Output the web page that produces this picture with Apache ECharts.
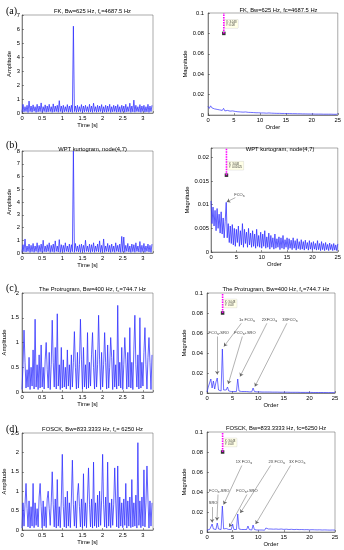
<!DOCTYPE html>
<html><head><meta charset="utf-8">
<script src="https://cdn.jsdelivr.net/npm/echarts@6/dist/echarts.min.js"></script>
<style>html,body{margin:0;padding:0;background:#fff}#c{width:344px;height:550px}</style>
</head><body><div id="c"></div>
<script>
// ---------- DATA ----------
const DT = 0.025;          // time step of the envelope signals [s]
const D_ORDER_A = 0.25, D_ORDER_B = 0.2, D_ORDER_C = 0.25, D_ORDER_D = 0.25;

const timeA = [
0.05,0.62,0.08,0.45,0.10,0.55,0.04,0.85,0.10,0.50,
0.06,0.58,0.12,0.45,0.05,0.62,0.08,0.50,0.10,0.72,
0.05,0.45,0.10,0.58,0.06,0.50,0.08,0.62,0.10,0.45,
0.05,0.65,0.08,0.50,0.10,0.55,0.06,0.88,0.10,0.50,
0.05,0.55,0.08,0.45,0.10,0.60,0.06,0.50,0.08,0.55,
0.05,6.20,0.10,0.50,0.06,0.55,0.08,0.45,0.10,0.60,
0.05,0.50,0.08,0.55,0.10,0.45,0.06,0.62,0.08,0.50,
0.05,0.70,0.10,0.45,0.06,0.55,0.08,0.50,0.10,0.60,
0.05,0.45,0.08,0.55,0.06,0.50,0.10,0.62,0.05,0.45,
0.08,0.55,0.10,0.50,0.06,0.60,0.08,0.45,0.05,0.55,
0.10,0.50,0.06,0.62,0.08,0.45,0.10,0.70,0.05,0.50,
0.08,0.92,0.06,0.55,0.10,0.45,0.08,0.60,0.05,0.50,
0.10,0.55,0.06,0.45,0.08,0.62,0.05,0.50,0.10,0.55];

const timeB = [
0.05,0.65,0.10,1.10,0.08,0.55,0.12,0.70,0.05,0.60,
0.10,0.75,0.06,0.55,0.12,0.80,0.05,0.60,0.10,0.70,
0.06,1.00,0.10,0.55,0.08,0.65,0.12,0.80,0.05,0.60,
0.10,0.70,0.06,0.95,0.12,0.55,0.08,1.05,0.05,0.65,
0.10,0.60,0.06,0.80,0.12,0.55,0.08,0.70,0.05,0.65,
0.10,8.00,0.06,0.75,0.12,0.55,0.08,0.65,0.05,0.70,
0.10,0.60,0.06,1.00,0.12,0.55,0.08,0.70,0.05,0.65,
0.10,0.80,0.06,0.55,0.12,0.70,0.08,0.95,0.05,0.60,
0.10,1.10,0.06,0.55,0.12,0.75,0.08,0.60,0.05,0.70,
0.10,0.55,0.06,0.80,0.12,0.60,0.08,0.70,0.05,1.30,
0.10,1.25,0.06,0.60,0.12,0.75,0.08,0.55,0.05,0.70,
0.10,0.65,0.06,0.80,0.12,0.55,0.08,0.90,0.05,0.60,
0.10,0.75,0.06,0.55,0.12,0.70,0.08,0.60,0.05,0.70];

const timeC = [
0.05,0.55,1.25,0.60,0.08,0.45,0.10,0.70,0.05,0.50,
0.12,0.85,0.06,1.47,0.10,0.55,0.05,0.75,0.08,0.95,
0.10,0.50,0.06,0.65,1.00,0.45,0.08,0.80,0.05,0.55,
1.45,0.60,0.10,0.90,0.06,1.58,0.12,0.55,0.05,0.90,
0.08,0.65,0.10,0.50,0.06,0.85,0.12,0.55,0.05,0.75,
0.10,0.60,1.22,0.50,0.06,0.80,0.08,0.55,1.47,0.65,
0.05,0.90,0.10,0.55,0.06,1.20,0.08,0.60,0.12,0.75,
1.20,0.50,0.06,0.85,0.10,0.55,1.55,0.65,0.05,0.80,
0.10,0.55,1.20,0.60,0.06,0.95,0.08,0.50,1.10,0.70,
0.05,0.85,0.10,0.55,0.06,1.75,0.12,0.60,0.08,0.90,
0.05,0.55,1.10,0.65,0.06,0.80,0.10,1.30,0.08,0.60,
0.05,0.85,1.55,0.55,0.10,0.75,0.06,1.50,0.08,0.60,
0.12,0.80,1.30,0.55,0.06,0.70,1.10,0.60,0.05,0.75];

const timeD = [
0.05,0.70,0.10,0.65,1.20,0.55,0.08,0.75,0.05,0.60,
0.10,1.20,0.06,0.70,0.12,0.55,0.08,0.85,1.20,0.60,
0.05,0.75,0.10,0.60,0.06,0.80,1.00,0.55,0.12,0.70,
1.50,0.65,0.08,0.80,0.05,1.30,0.10,0.60,0.06,0.75,
1.95,0.60,0.08,0.85,0.05,1.00,0.10,0.70,0.06,0.80,
1.80,0.65,0.10,0.75,0.05,0.90,1.20,0.60,0.08,0.80,
0.05,1.45,0.10,0.70,0.06,0.85,1.60,0.65,0.08,0.80,
0.05,1.75,0.10,0.70,0.06,0.90,0.08,1.00,0.12,0.75,
1.95,0.65,0.08,0.85,0.05,1.75,0.10,0.70,0.06,0.80,
0.12,0.65,1.60,0.75,0.08,1.65,0.05,0.85,0.10,0.70,
0.06,0.80,0.12,1.20,0.05,0.75,0.10,0.85,0.06,1.30,
0.08,0.70,0.10,0.90,0.05,2.25,0.12,0.75,0.06,0.85,
0.10,1.55,0.08,0.70,1.65,0.80,0.05,0.75,0.10,0.70];

const specA = [
0.0085,0.0065,0.0090,0.0070,0.0080,0.0060,0.0075,0.0055,0.0070,0.0050,
0.0060,0.0045,0.0065,0.0040,0.0055,0.0045,0.0050,0.0038,0.0050,0.0040,
0.0048,0.0035,0.0045,0.0032,0.0042,0.0030,0.0045,0.0028,0.0040,0.0030,
0.0038,0.0026,0.0035,0.0025,0.0036,0.0024,0.0032,0.0022,0.0034,0.0022,
0.0030,0.0020,0.0032,0.0020,0.0030,0.0018,0.0035,0.0020,0.0028,0.0018,
0.0028,0.0017,0.0026,0.0016,0.0027,0.0016,0.0025,0.0015,0.0026,0.0015,
0.0024,0.0014,0.0025,0.0014,0.0022,0.0013,0.0023,0.0013,0.0021,0.0012,
0.0022,0.0012,0.0020,0.0011,0.0021,0.0011,0.0019,0.0010,0.0020,0.0010,
0.0018,0.0010,0.0019,0.0009,0.0017,0.0009,0.0018,0.0009,0.0016,0.0008,
0.0017,0.0008,0.0016,0.0008,0.0015,0.0008,0.0016,0.0007,0.0015,0.0007,0.0014];

const specB = [
0.0108,0.0060,0.0095,0.0055,0.0088,0.0045,0.0092,0.0050,0.0080,0.0040,
0.0085,0.0038,0.0072,0.0030,0.0065,0.0105,0.0030,0.0060,0.0020,0.0055,
0.0018,0.0058,0.0015,0.0050,0.0012,0.0048,0.0020,0.0055,0.0012,0.0045,
0.0015,0.0060,0.0010,0.0048,0.0018,0.0042,0.0010,0.0050,0.0015,0.0040,
0.0010,0.0045,0.0012,0.0038,0.0008,0.0048,0.0012,0.0035,0.0010,0.0042,
0.0008,0.0038,0.0012,0.0045,0.0008,0.0032,0.0010,0.0040,0.0006,0.0035,
0.0010,0.0030,0.0006,0.0038,0.0008,0.0028,0.0010,0.0032,0.0005,0.0030,
0.0008,0.0035,0.0006,0.0026,0.0010,0.0030,0.0005,0.0028,0.0008,0.0025,
0.0005,0.0030,0.0008,0.0024,0.0004,0.0028,0.0007,0.0022,0.0005,0.0026,
0.0006,0.0022,0.0004,0.0025,0.0007,0.0020,0.0004,0.0024,0.0006,0.0020,
0.0004,0.0022,0.0006,0.0018,0.0004,0.0024,0.0005,0.0018,0.0003,0.0022,
0.0005,0.0018,0.0003,0.0020,0.0005,0.0016,0.0003,0.0019,0.0005,0.0016,
0.0003,0.0018,0.0004,0.0015,0.0003,0.0017];

const specC = [
0.0010,0.0060,0.0040,0.0140,0.0050,0.0120,0.0040,0.0110,0.0150,0.0030,
0.0040,0.0020,0.0440,0.0030,0.0020,0.0030,0.0060,0.0020,0.0030,0.0015,
0.0030,0.0015,0.0025,0.0015,0.0140,0.0020,0.0030,0.0015,0.0025,0.0015,
0.0030,0.0015,0.0025,0.0012,0.0020,0.0012,0.0050,0.0015,0.0025,0.0012,
0.0022,0.0012,0.0020,0.0010,0.0022,0.0010,0.0020,0.0010,0.0018,0.0010,
0.0020,0.0009,0.0018,0.0009,0.0017,0.0009,0.0018,0.0008,0.0016,0.0008,
0.0017,0.0008,0.0015,0.0008,0.0016,0.0007,0.0015,0.0007,0.0014,0.0007,
0.0015,0.0007,0.0014,0.0006,0.0013,0.0006,0.0014,0.0006,0.0012,0.0006,
0.0013,0.0006,0.0012,0.0005,0.0012,0.0005,0.0011,0.0005,0.0012,0.0005,
0.0011,0.0005,0.0010,0.0004,0.0011,0.0004,0.0010,0.0004,0.0010,0.0004,0.0009];

const specD = [
0.0020,0.0040,0.0025,0.0050,0.0080,0.0030,0.0040,0.0025,0.0090,0.0030,
0.0035,0.0025,0.0260,0.0030,0.0025,0.0035,0.0040,0.0025,0.0035,0.0025,
0.0080,0.0025,0.0035,0.0025,0.0180,0.0030,0.0035,0.0025,0.0045,0.0025,
0.0035,0.0025,0.0060,0.0025,0.0035,0.0020,0.0070,0.0025,0.0035,0.0020,
0.0030,0.0020,0.0035,0.0020,0.0030,0.0018,0.0040,0.0020,0.0030,0.0018,
0.0030,0.0018,0.0028,0.0017,0.0030,0.0017,0.0027,0.0016,0.0030,0.0016,
0.0026,0.0016,0.0028,0.0015,0.0025,0.0015,0.0027,0.0015,0.0024,0.0014,
0.0026,0.0014,0.0024,0.0014,0.0025,0.0013,0.0023,0.0013,0.0024,0.0013,
0.0022,0.0012,0.0023,0.0012,0.0022,0.0012,0.0021,0.0011,0.0022,0.0011,
0.0020,0.0011,0.0021,0.0010,0.0020,0.0010,0.0019,0.0010,0.0020,0.0010,0.0019];

const cursorX = 3.048;
const cursorY = [0.08, 0.01625, 0.08, 0.08];
const cursorTips = ['X: 3.048\nY: 0.08', 'X: 3.048\nY: 0.01625', 'X: 3.048\nY: 0.08', 'X: 3.048\nY: 0.08'];

const titles = [
  'FK, Bw=625 Hz, f{s|c}=4687.5 Hz', 'FK, Bw=625 Hz, fc=4687.5 Hz',
  'WPT kurtogram, node(4,7)', 'WPT kurtogram, node(4,7)',
  'The Protrugram, Bw=400 Hz, f{s|c}=744.7 Hz', 'The Protrugram, Bw=400 Hz, f{s|c}=744.7 Hz',
  'FOSCK, Bw=833.3333 Hz, f{s|c}= 6250 Hz', 'FOSCK, Bw=833.3333 Hz, fc=6250 Hz'];
const panelLetters = ['(a)', '(b)', '(c)', '(d)'];

// ---------- LAYOUT / STYLE ----------
const FONT = '"Liberation Sans", Arial, sans-serif';
const BLUE = 'rgba(45,45,255,0.85)';
const panels = [
 {g:[22,15,131,98],  d:timeA, st:DT, xmax:3.25, xi:0.5, ymax:7,   yi:1,    yn:'Amplitude', xn:'Time [s]', yg:6,  ym:2, xg:7,  tt:3, w:0.9},
 {g:[208,13,131,102],d:specA, st:D_ORDER_A, xmax:25, xi:5, ymax:0.1, yi:0.02, yn:'Magnitude', xn:'Order', yg:14, ym:4, xg:7, tt:2, c:0, w:0.8},
 {g:[22,151,131,102],d:timeB, st:DT, xmax:3.25, xi:0.5, ymax:8,   yi:1,    yn:'Amplitude', xn:'Time [s]', yg:6,  ym:2, xg:7,  tt:141, w:0.9},
 {g:[211,148,128,104],d:specB,st:D_ORDER_B, xmax:25, xi:5, ymax:0.022, yi:0.005, yn:'Magnitude', xn:'Order', yg:18, ym:2, xg:7, tt:141, c:1, w:0.9},
 {g:[22,293,131,99], d:timeC, st:DT, xmax:3.25, xi:0.5, ymax:2,   yi:0.5,  yn:'Amplitude', xn:'Time [s]', yg:11, ym:3, xg:7,  tt:281, w:0.9},
 {g:[207,293,128,100],d:specC,st:D_ORDER_C, xmax:25, xi:5, ymax:0.1, yi:0.02, yn:'Magnitude', xn:'Order', yg:14, ym:4, xg:7, tt:281, c:2, w:0.8},
 {g:[22,433,131,97], d:timeD, st:DT, xmax:3.25, xi:0.5, ymax:2.5, yi:0.5,  yn:'Amplitude', xn:'Time [s]', yg:11, ym:3, xg:4,  tt:421, w:0.9},
 {g:[207,432,128,100],d:specD,st:D_ORDER_D, xmax:25, xi:5, ymax:0.1, yi:0.02, yn:'Magnitude', xn:'Order', yg:14, ym:4, xg:6, tt:420, c:3, w:0.8}
];
// annotation layout: text centre, arrow start, arrow end (data coords)
const annotations = {
 3: [{t:'FCO{s|s}', at:[5.6,0.0121], a:[4.8,0.0115], b:[3.1,0.0106]}],
 5: [{t:'FCO{s|s}-SRO', at:[2.3,0.0600], a:[2.0,0.0565], b:[2.0,0.0185]},
     {t:'1x FCO{s|s}',  at:[7.8,0.0730], a:[6.7,0.0697], b:[3.3,0.0465]},
     {t:'FCO{s|s}+SRO', at:[7.4,0.0600], a:[6.9,0.0565], b:[4.15,0.0090]},
     {t:'2XFCO{s|s}',   at:[12.2,0.0730],a:[11.7,0.0697],b:[6.45,0.0165]},
     {t:'3XFCO{s|s}',   at:[16.2,0.0730],a:[15.6,0.0697],b:[9.35,0.0065]}],
 7: [{t:'SRO',          at:[1.2,0.0287], a:[1.0,0.0250], b:[1.0,0.0095]},
     {t:'FCO{s|s}-SRO', at:[2.4,0.0410], a:[2.15,0.0375],b:[1.95,0.0115]},
     {t:'1X FCO{s|s}',  at:[7.2,0.0700], a:[6.8,0.0665], b:[3.25,0.0275]},
     {t:'FCO{s|s}+SRO', at:[7.8,0.0410], a:[7.8,0.0375], b:[4.35,0.0050]},
     {t:'2X FCO{s|s}',  at:[13.6,0.0700],a:[12.4,0.0665],b:[6.5,0.0190]},
     {t:'3X FCO{s|s}',  at:[17.6,0.0700],a:[16.3,0.0665],b:[9.5,0.0080]}]
};

const ticksFmt = (iv) => (v) => {
  const r = v / iv; return Math.abs(r - Math.round(r)) < 1e-6 ? String(+v.toFixed(4)) : '';
};
const subRich = { s: { fontSize: 3.8, padding: [2.5, 0, 0, 0], fontFamily: FONT, color: '#000' } };

const option = { animation: false, backgroundColor: '#fff', grid: [], xAxis: [], yAxis: [], series: [], title: [] };

panels.forEach((p, i) => {
  option.grid.push({ left: p.g[0], top: p.g[1], width: p.g[2], height: p.g[3], show: true,
    borderColor: '#555', borderWidth: 0.5, backgroundColor: '#fff' });
  const axCommon = {
    gridIndex: i, type: 'value', min: 0,
    axisLine: { show: true, lineStyle: { color: '#333', width: 0.5 } },
    axisTick: { show: true, inside: true, length: 2, lineStyle: { color: '#333', width: 0.5 } },
    splitLine: { show: false },
    nameLocation: 'middle',
    nameTextStyle: { fontSize: 5.8, color: '#000', fontFamily: FONT }
  };
  option.xAxis.push(Object.assign({}, axCommon, {
    max: p.xmax, interval: p.xi, name: p.xn, nameGap: p.xg,
    axisLabel: { fontSize: 5.8, margin: 2, color: '#000', fontFamily: FONT, formatter: ticksFmt(p.xi) }
  }));
  option.yAxis.push(Object.assign({}, axCommon, {
    max: p.ymax, interval: p.yi, name: p.yn, nameGap: p.yg,
    axisLabel: { fontSize: 5.8, margin: p.ym, color: '#000', fontFamily: FONT, formatter: ticksFmt(p.yi) }
  }));
  option.series.push({
    type: 'line', xAxisIndex: i, yAxisIndex: i, showSymbol: false, symbol: 'none', clip: true,
    lineStyle: { color: BLUE, width: p.w },
    data: p.d.map((v, k) => [+(k * p.st).toFixed(4), v])
  });
  const cx = (i % 2 === 0) ? 87.5 : p.g[0] + p.g[2] / 2;
  option.title.push({ text: titles[i], left: cx, top: p.tt, textAlign: 'center',
    textStyle: { fontSize: 5.8, fontWeight: 'normal', color: '#000', fontFamily: FONT, rich: subRich } });
  if (p.c !== undefined) {
    option.series.push({
      type: 'line', xAxisIndex: i, yAxisIndex: i, showSymbol: false, symbol: 'none',
      lineStyle: { color: '#ff00ff', width: 1.6, type: [1.5, 1] },
      data: [[cursorX, cursorY[p.c]], [cursorX, p.ymax]]
    });
    option.series.push({
      type: 'scatter', xAxisIndex: i, yAxisIndex: i, symbol: 'rect', symbolSize: 3.5,
      itemStyle: { color: '#000' },
      label: { show: true, formatter: cursorTips[p.c], position: [2.5, -12], fontSize: 2.8, lineHeight: 3.4,
        color: '#000', fontFamily: FONT, backgroundColor: '#ffffe1', borderColor: '#bbb', borderWidth: 0.3,
        padding: [0.8, 1.5] },
      data: [[cursorX, cursorY[p.c]]]
    });
  }
  const an = annotations[i];
  if (an) {
    option.series.push({
      type: 'lines', coordinateSystem: 'cartesian2d', xAxisIndex: i, yAxisIndex: i,
      symbol: ['none', 'arrow'], symbolSize: 3.5,
      lineStyle: { color: '#666', width: 0.5, opacity: 1 },
      itemStyle: { color: '#000' },
      data: an.map(o => ({ coords: [o.a, o.b] }))
    });
    option.series.push({
      type: 'scatter', xAxisIndex: i, yAxisIndex: i, symbolSize: 1,
      itemStyle: { color: 'rgba(0,0,0,0)' },
      label: { show: true, position: 'inside', formatter: (q) => q.name, fontSize: 4, color: '#000',
        fontFamily: FONT, rich: subRich },
      data: an.map(o => ({ name: o.t, value: o.at }))
    });
  }
});
const letterTops = [1, 135, 278, 419];
panelLetters.forEach((t, k) => option.title.push({ text: t, left: 1, top: letterTops[k],
  textStyle: { fontSize: 10, fontWeight: 'normal', color: '#000', fontFamily: '"Liberation Serif", "Times New Roman", serif' } }));

echarts.init(document.getElementById('c'), null, { renderer: 'canvas' }).setOption(option);
</script></body></html>
